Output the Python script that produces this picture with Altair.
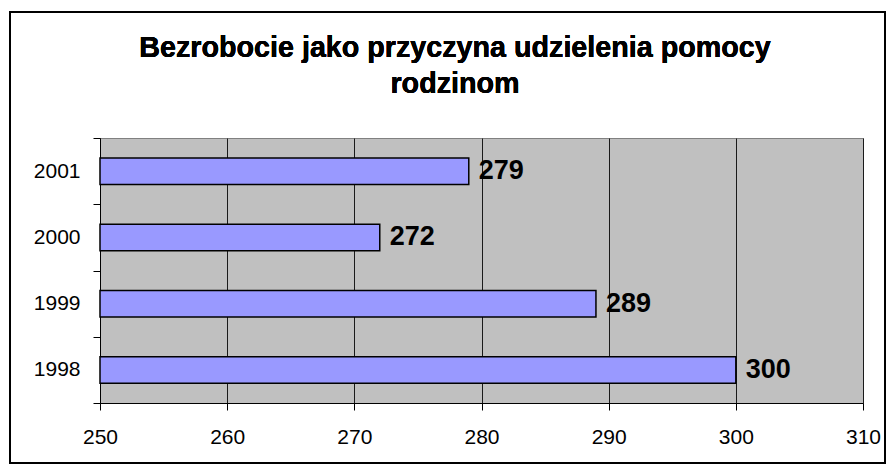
import altair as alt
import pandas as pd

years = ["2001", "2000", "1999", "1998"]
values = [279, 272, 289, 300]
title_lines = ["Bezrobocie jako przyczyna udzielenia pomocy", "rodzinom"]
x_domain = [250, 310]
x_ticks = [250, 260, 270, 280, 290, 300, 310]

df = pd.DataFrame({"year": years, "value": values})
FONT = "Liberation Sans"

base = alt.Chart(df)

y_enc = alt.Y(
    "year:N",
    sort=years,
    scale=alt.Scale(paddingInner=0, paddingOuter=0),
    axis=alt.Axis(
        title=None, labelFontSize=21, labelFont=FONT, labelColor="black",
        labelPadding=13, tickSize=7, tickColor="black", domainColor="black",
        tickBand="extent", tickWidth=1, domainWidth=1, labelAngle=0,
    ),
)
x_enc = alt.X(
    "value:Q",
    scale=alt.Scale(domain=x_domain, zero=False, nice=False),
    axis=alt.Axis(
        title=None, values=x_ticks, labelFontSize=21, labelFont=FONT,
        labelColor="black", labelPadding=16, tickSize=7, tickColor="black",
        domainColor="black", grid=True, gridColor="#1a1a1a", gridWidth=1,
        labelFlush=False,
    ),
)

bars = base.mark_bar(
    color="#9999FF", stroke="black", strokeWidth=1.5,
    height=alt.RelativeBandSize(0.4),
).encode(y=y_enc, x=x_enc, x2=alt.X2(datum=x_domain[0]))

labels = base.mark_text(
    align="left", baseline="middle", dx=10, fontSize=27, fontWeight="bold",
    font=FONT, color="black"
).encode(y=alt.Y("year:N", sort=years), x="value:Q", text="value:Q")

title = base.mark_text(
    text=title_lines, align="center", baseline="alphabetic", fontSize=28.7,
    fontWeight="bold", font=FONT, color="black", lineHeight=36,
).encode(x=alt.value(355), y=alt.value(-81))

border = base.mark_rect(fill=None, stroke="black", strokeWidth=2).encode(
    x=alt.value(-90), x2=alt.value(785), y=alt.value(-126), y2=alt.value(325)
)

chart = alt.layer(bars, labels, border, title).properties(
    width=763,
    height=265,
    autosize=alt.AutoSizeParams(type="none"),
    padding={"left": 92, "top": 130, "right": 23, "bottom": 61},
).configure(
    background="white",
    view=alt.ViewConfig(fill="#C0C0C0", stroke="#808080", strokeWidth=1),
)

chart.save("out.html", embed_options={"renderer": "svg", "actions": False})
